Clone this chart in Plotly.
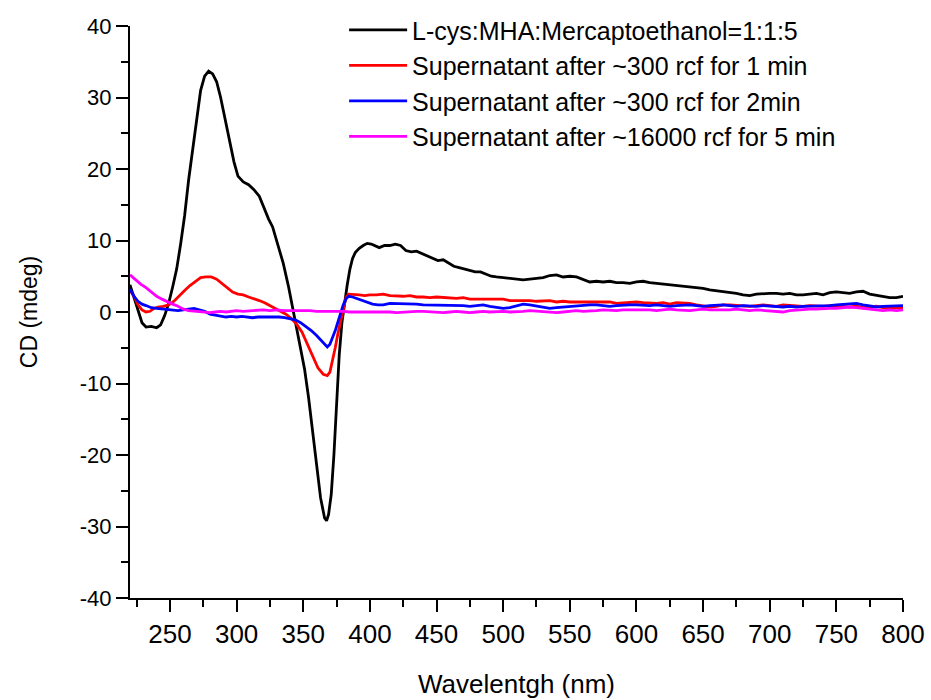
import plotly.graph_objects as go

# ---------------- data ----------------
names = [
    "L-cys:MHA:Mercaptoethanol=1:1:5",
    "Supernatant after ~300 rcf for 1 min",
    "Supernatant after ~300 rcf for 2min",
    "Supernatant after ~16000 rcf for 5 min",
]
colors = ["#000000", "#ff0000", "#0000ff", "#ff00ff"]

black_x = [220,223,226,229,232,236,240,243,246,249,252,255,258,261,264,267,270,273,276,279,282,285,288,291,295,298,301,305,309,313,317,320,324,327,331,335,339,342,345,348,351,354,357,360,363,366,367.5,369,371,373,375,377,379,381,383,385,387,389,392,395,398,401,404,407,411,415,419,423,427,431,435,439,443,447,451,455,459,463,467,471,475,479,483,487,491,495,500,505,510,515,520,525,530,535,540,545,550,555,560,565,570,575,580,585,590,595,600,605,610,615,620,625,630,635,640,645,650,655,660,665,670,675,680,685,690,695,700,705,710,715,720,725,730,735,740,745,750,755,760,765,770,775,780,785,790,795,800]
black_y = [3.8,2.0,0.0,-1.5,-2.1,-2.0,-2.2,-1.8,-0.5,1.2,3.5,6.0,9.5,13.5,18.5,22.7,27.3,31.0,33.0,33.7,33.3,32.2,30.0,27.3,24.0,21.0,19.0,18.2,17.8,17.1,16.2,14.8,13.0,11.9,9.5,6.8,3.5,0.5,-2.5,-5.0,-8.0,-12.0,-16.5,-21.5,-26.0,-28.8,-29.2,-28.3,-25.5,-20.0,-13.0,-6.0,-1.5,1.5,3.8,6.0,7.5,8.3,8.9,9.3,9.6,9.5,9.2,9.0,9.3,9.3,9.5,9.3,8.6,8.4,8.5,8.2,7.9,7.6,7.2,7.3,6.9,6.4,6.2,6.0,5.9,5.6,5.6,5.3,5.0,4.9,4.8,4.7,4.6,4.5,4.6,4.7,4.8,5.1,5.2,4.9,5.0,4.9,4.6,4.2,4.3,4.2,4.3,4.1,4.1,4.0,4.2,4.3,4.1,4.0,3.9,3.8,3.7,3.7,3.5,3.4,3.3,3.1,3.0,2.9,2.8,2.6,2.4,2.3,2.5,2.6,2.6,2.6,2.5,2.6,2.4,2.4,2.5,2.6,2.4,2.7,2.8,2.7,2.6,2.8,2.9,2.5,2.3,2.1,2.0,2.0,2.2]

red_x = [220,223,226,229,232,235,238,241,245,249,253,257,261,265,269,273,277,281,285,289,293,297,301,305,309,313,317,321,325,329,333,337,341,345,349,353,357,361,365,368,370,372,374,376,378,380,382,384,388,392,396,400,405,410,415,420,425,430,435,440,445,450,455,460,465,470,475,480,485,490,495,500,505,510,515,520,525,530,535,540,545,550,555,560,565,570,575,580,585,590,595,600,605,610,615,620,625,630,635,640,645,650,655,660,665,670,675,680,685,690,695,700,705,710,715,720,725,730,735,740,745,750,755,760,765,770,775,780,785,790,795,800]
red_y = [3.0,2.2,1.0,0.3,0.0,0.1,0.5,0.7,0.8,1.0,1.5,2.3,3.0,3.7,4.3,4.8,4.9,4.9,4.6,4.0,3.4,2.8,2.5,2.4,2.1,1.9,1.6,1.3,0.9,0.5,0.2,-0.3,-0.9,-1.7,-2.8,-4.4,-6.2,-7.8,-8.7,-8.9,-8.4,-6.8,-5.0,-3.0,-1.2,0.5,2.0,2.5,2.5,2.4,2.3,2.4,2.4,2.5,2.3,2.2,2.2,2.3,2.1,2.1,2.0,2.1,2.0,1.9,1.9,2.0,1.8,1.8,1.8,1.7,1.8,1.8,1.6,1.6,1.7,1.6,1.5,1.5,1.6,1.4,1.5,1.4,1.4,1.3,1.4,1.3,1.3,1.4,1.2,1.3,1.4,1.4,1.3,1.2,1.2,1.3,1.1,1.3,1.3,1.2,1.0,0.9,0.7,0.8,1.0,1.0,0.9,0.8,0.8,0.9,1.0,0.9,0.8,1.0,0.9,0.9,0.8,0.9,0.8,0.8,0.9,0.8,0.7,0.7,0.8,0.6,0.7,0.8,0.6,0.6,0.7,0.6]

blue_x = [220,223,226,229,232,236,240,244,248,252,256,260,264,268,272,276,280,284,288,292,296,300,304,308,312,316,320,324,328,332,336,340,344,348,352,356,360,363,366,368,370,372,374,376,378,380,382,384,387,390,394,398,402,406,410,415,420,425,430,435,440,445,450,455,460,465,470,475,480,485,490,495,500,505,510,515,520,525,530,535,540,545,550,555,560,565,570,575,580,585,590,595,600,605,610,615,620,625,630,635,640,645,650,655,660,665,670,675,680,685,690,695,700,705,710,715,720,725,730,735,740,745,750,755,760,765,770,775,780,785,790,795,800]
blue_y = [3.2,2.2,1.5,1.1,0.9,0.6,0.5,0.4,0.3,0.3,0.2,0.3,0.4,0.5,0.3,0.1,-0.3,-0.4,-0.5,-0.7,-0.6,-0.7,-0.6,-0.7,-0.8,-0.7,-0.7,-0.6,-0.7,-0.7,-0.8,-0.9,-1.1,-1.5,-2.0,-2.6,-3.3,-3.9,-4.6,-4.9,-4.5,-3.6,-2.6,-1.4,-0.2,1.0,1.8,2.2,2.1,1.9,1.6,1.3,1.1,1.0,1.0,1.2,1.2,1.2,1.1,1.1,1.0,1.0,0.9,1.0,1.0,1.0,0.9,0.8,0.9,1.0,0.8,0.6,0.5,0.6,0.9,1.1,1.0,0.8,0.6,0.5,0.6,0.7,0.8,0.8,0.9,1.0,1.0,0.9,0.8,0.9,1.0,1.0,1.0,0.9,0.9,1.0,0.9,0.8,0.9,1.0,1.0,0.9,0.8,0.9,1.0,1.0,0.9,0.8,0.9,0.8,0.8,0.9,0.8,0.7,0.7,0.8,0.7,0.8,0.8,0.9,0.8,0.9,1.0,1.1,1.2,1.2,1.0,0.8,0.7,0.8,0.8,0.8,0.9]

mag_x = [220,224,228,232,236,240,244,248,252,256,260,264,268,272,276,280,284,288,292,296,300,305,310,315,320,325,330,335,340,345,350,355,360,365,370,375,380,385,390,395,400,405,410,415,420,425,430,435,440,445,450,455,460,465,470,475,480,485,490,495,500,505,510,515,520,525,530,535,540,545,550,555,560,565,570,575,580,585,590,595,600,605,610,615,620,625,630,635,640,645,650,655,660,665,670,675,680,685,690,695,700,705,710,715,720,725,730,735,740,745,750,755,760,765,770,775,780,785,790,795,800]
mag_y = [5.2,4.5,3.9,3.4,2.8,2.2,1.8,1.4,1.1,0.8,0.4,0.2,0.1,0.0,0.0,-0.1,0.0,0.1,0.0,0.1,0.2,0.1,0.2,0.3,0.3,0.2,0.3,0.2,0.2,0.3,0.3,0.2,0.1,0.1,0.2,0.1,0.1,0.0,0.0,0.1,0.0,0.1,0.0,0.0,-0.1,0.0,0.0,0.1,0.1,0.0,0.0,-0.1,0.0,0.1,0.0,-0.1,0.0,0.1,0.0,0.1,0.1,0.0,0.0,0.1,0.2,0.1,0.1,0.0,-0.1,0.0,0.1,0.2,0.1,0.1,0.2,0.3,0.2,0.2,0.3,0.3,0.4,0.3,0.3,0.2,0.3,0.4,0.3,0.2,0.2,0.3,0.4,0.3,0.3,0.2,0.3,0.4,0.3,0.2,0.3,0.2,0.1,0.0,0.0,0.2,0.3,0.3,0.4,0.4,0.5,0.5,0.5,0.6,0.7,0.6,0.5,0.3,0.2,0.2,0.3,0.2,0.3]

series_x = [black_x, red_x, blue_x, mag_x]
series_y = [black_y, red_y, blue_y, mag_y]

x_ticks = [250, 300, 350, 400, 450, 500, 550, 600, 650, 700, 750, 800]
y_ticks = [-40, -30, -20, -10, 0, 10, 20, 30, 40]

# ---------------- figure ----------------
FONT = "Liberation Sans, Arial, sans-serif"
fig = go.Figure()
for i, (xs, ys) in enumerate(zip(series_x, series_y)):
    fig.add_trace(go.Scatter(
        x=xs, y=ys, mode="lines", name=names[i],
        line=dict(color=colors[i], width=2.8),
        legendgroup=f"g{i}",
    ))

# paper area spans the top 598 px; the y axis occupies its lower 572 px
fig.update_layout(
    width=931, height=700,
    margin=dict(l=130, r=28, t=0, b=102),
    paper_bgcolor="white", plot_bgcolor="white",
    font=dict(family=FONT, size=22, color="black"),
    showlegend=True,
    legend=dict(
        x=0.277, y=0.988, xanchor="left", yanchor="top",
        bgcolor="rgba(0,0,0,0)", borderwidth=0,
        font=dict(family=FONT, size=25, color="black"),
        traceorder="grouped", tracegroupgap=0,
        itemwidth=58,
    ),
)

fig.update_xaxes(
    range=[220, 800], tickvals=x_ticks, ticktext=[str(v) for v in x_ticks],
    showline=True, linecolor="black", linewidth=2, mirror=False,
    showgrid=False, zeroline=False, automargin=False,
    ticks="outside", ticklen=12, tickwidth=2, tickcolor="black",
    minor=dict(ticks="outside", ticklen=7, tickwidth=2, tickcolor="black",
               tick0=225, dtick=25, showgrid=False),
    tickfont=dict(size=26),
    title=dict(text="Wavelentgh (nm)", font=dict(size=26), standoff=27),
)
fig.update_yaxes(
    range=[-40, 40], tickvals=y_ticks, ticktext=[str(v) for v in y_ticks],
    domain=[0, 572 / 598],
    showline=True, linecolor="black", linewidth=2, mirror=False,
    showgrid=False, zeroline=False, automargin=False,
    ticks="outside", ticklen=12, tickwidth=2, tickcolor="black",
    minor=dict(ticks="outside", ticklen=7, tickwidth=2, tickcolor="black",
               tick0=-35, dtick=5, showgrid=False),
    tickfont=dict(size=22),
    title=dict(text="CD (mdeg)", font=dict(size=23), standoff=36),
)

fig.write_html("out.html")
